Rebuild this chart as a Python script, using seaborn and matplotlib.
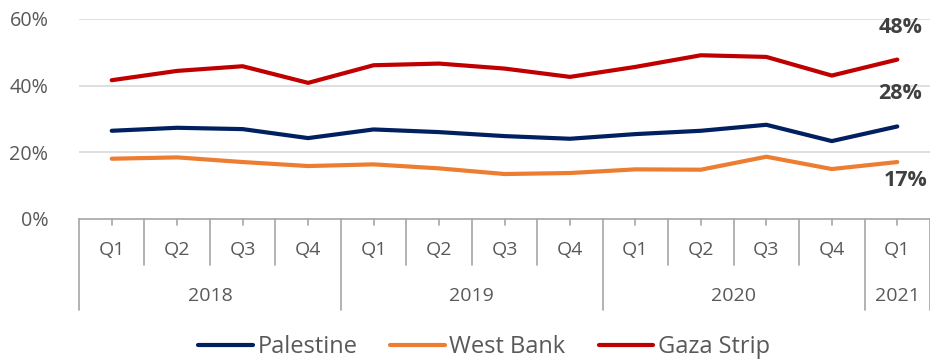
import matplotlib
matplotlib.use("Agg")
import matplotlib.pyplot as plt
import seaborn as sns
import pandas as pd
from matplotlib.ticker import FuncFormatter

quarters = ["Q1", "Q2", "Q3", "Q4", "Q1", "Q2", "Q3", "Q4", "Q1", "Q2", "Q3", "Q4", "Q1"]
years = ["2018", "2019", "2020", "2021"]
year_counts = [4, 4, 4, 1]
palestine = [26.4, 27.3, 26.9, 24.2, 26.8, 26.0, 24.8, 24.0, 25.4, 26.4, 28.2, 23.3, 27.7]
west_bank = [18.0, 18.4, 17.0, 15.8, 16.3, 15.1, 13.4, 13.7, 14.8, 14.7, 18.6, 14.9, 17.0]
gaza = [41.6, 44.4, 45.8, 40.8, 46.1, 46.6, 45.1, 42.6, 45.6, 49.1, 48.6, 43.0, 47.8]
series_names = ["Palestine", "West Bank", "Gaza Strip"]
colors = ["#002060", "#ED7D31", "#C00000"]

sns.set_theme(style="white")
plt.rcParams["font.family"] = ["Open Sans", "DejaVu Sans"]

rows = []
for name, vals in zip(series_names, [palestine, west_bank, gaza]):
    for i, v in enumerate(vals):
        rows.append({"idx": i, "value": v, "series": name})
df = pd.DataFrame(rows)

fig = plt.figure(figsize=(9.3, 3.62), dpi=100)
ax = fig.add_axes([79 / 930, (362 - 218.6) / 362, 1 - 79 / 930, (218.6 - 19) / 362])

sns.lineplot(data=df, x="idx", y="value", hue="series", palette=colors,
             hue_order=series_names, linewidth=3, ax=ax, legend=False)

ax.set_xlim(-0.5, len(quarters) - 0.5)
ax.set_ylim(0, 60)
ax.set_yticks([0, 20, 40, 60])
ax.yaxis.set_major_formatter(FuncFormatter(lambda v, p: f"{int(v)}%"))
ax.tick_params(axis="y", length=0, pad=22, labelsize=14.2, labelcolor="#595959")
ax.set_xticks([])
ax.set_xlabel("")
ax.set_ylabel("")
for y in [20, 40, 60]:
    ax.axhline(y, color="#D9D9D9", lw=1.2, zorder=0)
for s in ["top", "right", "left"]:
    ax.spines[s].set_visible(False)
ax.spines["bottom"].set_color("#A6A6A6")
ax.spines["bottom"].set_linewidth(1.2)

tr = ax.get_xaxis_transform()
h = 199.6
gray = "#A6A6A6"
# center ticks and quarter labels
for i, q in enumerate(quarters):
    ax.plot([i, i], [0, -6.5 / h], transform=tr, color=gray, lw=1.2, clip_on=False)
    ax.text(i, -(250 - 218.6) / h, q, transform=tr, ha="center", va="center",
            fontsize=14, color="#595959")
# separators
year_bounds = [-0.5]
for c in year_counts:
    year_bounds.append(year_bounds[-1] + c)
for k in range(len(quarters) + 1):
    xb = k - 0.5
    if xb in year_bounds:
        y2 = -(310 - 218.6) / h
    else:
        y2 = -(265 - 218.6) / h
    ax.plot([xb, xb], [0, y2], transform=tr, color=gray, lw=1.2, clip_on=False)
for j, yr in enumerate(years):
    xc = (year_bounds[j] + year_bounds[j + 1]) / 2
    ax.text(xc, -(296 - 218.6) / h, yr, transform=tr, ha="center", va="center",
            fontsize=14, color="#595959")

# end labels
last = len(quarters) - 1
offsets = [(3, 33), (8, -18), (3, 32)]
for vals, (dx, dy) in zip([palestine, west_bank, gaza], offsets):
    ax.annotate(f"{round(vals[-1])}%", (last, vals[-1]), xytext=(dx, dy),
                textcoords="offset pixels", ha="center", va="center",
                fontsize=15.5, fontweight="bold", color="#404040", annotation_clip=False)

handles = [plt.Line2D([], [], color=c, lw=3) for c in colors]
fig.legend(handles, series_names, loc="center", bbox_to_anchor=(484 / 930, 1 - 347 / 362),
           ncol=3, frameon=False, fontsize=17, handlelength=2.3, handletextpad=0.2,
           columnspacing=1.4, labelcolor="#595959")

fig.savefig("out.png", dpi=100)
